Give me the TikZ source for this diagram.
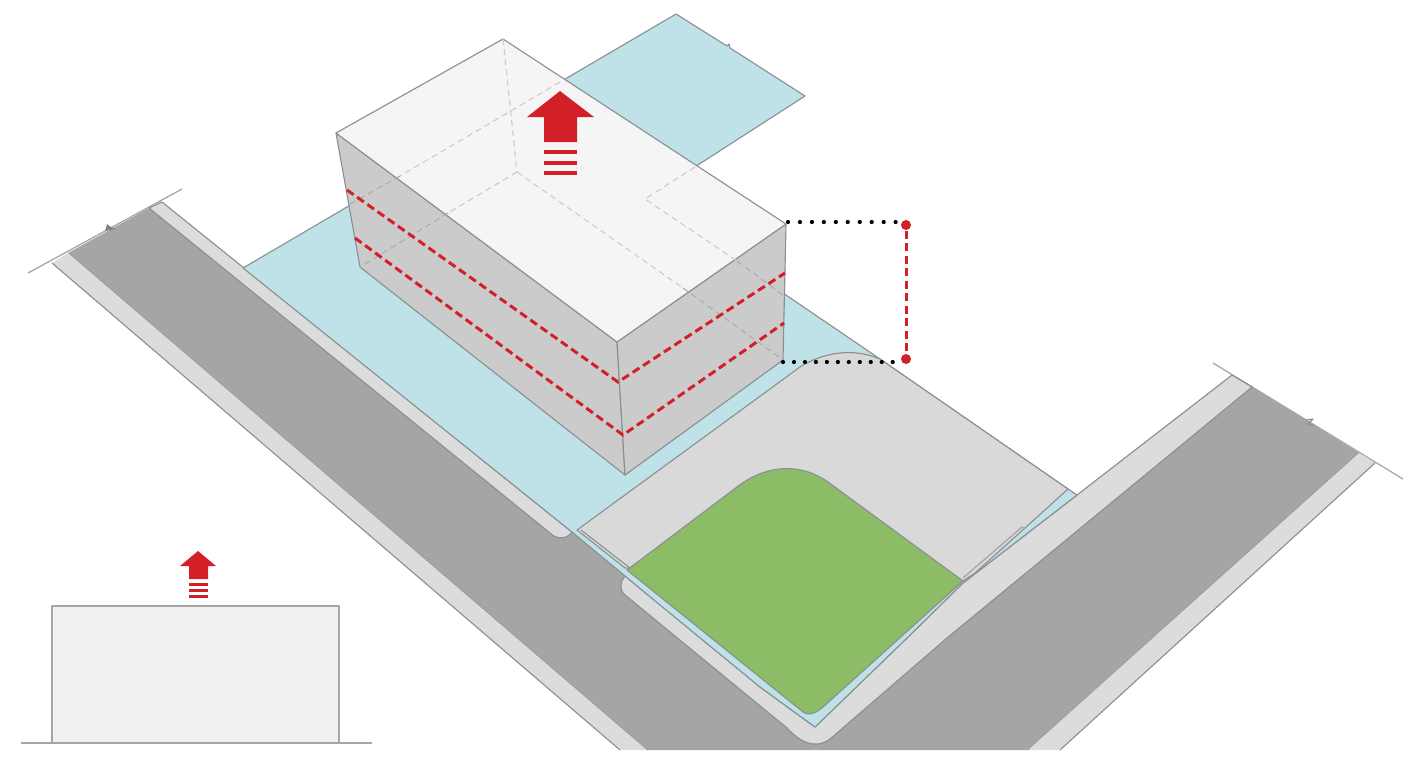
\documentclass[tikz,border=0pt]{standalone}
\definecolor{roadgray}{HTML}{A5A5A5}
\definecolor{walkgray}{HTML}{DCDCDC}
\definecolor{pavegray}{HTML}{D9D9D9}
\definecolor{lotblue}{HTML}{BFE2E9}
\definecolor{lawngreen}{HTML}{8DBC66}
\definecolor{edgegray}{HTML}{8A9092}
\definecolor{topwhite}{HTML}{F5F5F6}
\definecolor{sidegray}{HTML}{CBCBCB}
\definecolor{hintred}{HTML}{D31F27}
\begin{document}
\begin{tikzpicture}[
  x=0.01cm, y=-0.01cm,
  edge/.style={line width=0.32pt, draw=edgegray, line join=round},
  edgelight/.style={line width=0.36pt, draw=black!35, line join=round},
  hidden/.style={line width=0.32pt, draw=black!20, dash pattern=on 1.7pt off 1.2pt},
  hiddenside/.style={line width=0.32pt, draw=black!32, dash pattern=on 1.7pt off 1.2pt},
  reddash/.style={line width=0.85pt, draw=hintred, dash pattern=on 2.3pt off 1.25pt},
  dotline/.style={line width=1.2pt, draw=black, line cap=round},
  dimdot/.style={circle, fill=hintred, inner sep=0pt, minimum size=0.1cm},
  hintarrow/.style={fill=hintred, draw=none}
]
  \useasboundingbox (0,0) rectangle (1409,760);

  % Road
  \fill[roadgray] (68,253) -- (149,208) -- (550,533) -- (572,532) -- (815,727)
    -- (1252,387) -- (1359,453) -- (1028,750) -- (647,750) -- cycle;
  \draw[edge] (68,253) -- (647,750);
  \draw[edge] (1359,453) -- (1028,750);
  \draw[edgelight] (28,273) -- (182,189);
  \draw[edgelight] (1213,363) -- (1403,479);
  \fill[roadgray!80!black] (105,231) -- (107,224) -- (111,227) -- (116,229) -- cycle;
  \draw[edge] (1306,420) -- (1313,419) -- (1308,424) -- (1314,426);

  % Sidewalks
  \fill[walkgray] (52,263) -- (68,253) -- (647,750) -- (620,750) -- cycle;
  \draw[edge] (52,263) -- (620,750);
  \fill[walkgray] (1359,453) -- (1375,463) -- (1060,750) -- (1028,750) -- cycle;
  \draw[edge] (1375,463) -- (1060,750);
  \filldraw[edge, fill=walkgray] (149,208) -- (162,202) -- (572,532)
    .. controls (568,538) and (558,541) .. (550,533) -- cycle;
  \filldraw[edge, fill=walkgray] (625,576) .. controls (620,581) and (619,590) .. (625,595)
    -- (787,728) .. controls (800,742) and (815,750) .. (830,739)
    -- (947,638) -- (1252,387) -- (1232,375) -- (1077,495) -- (963,583) -- (907,638)
    -- (815,727) -- (760,687) -- cycle;

  % Lot
  \filldraw[edge, fill=lotblue] (243,268) -- (676,14) -- (727,46) -- (729,44) -- (730,48)
    -- (805,96) -- (645,199) -- (880,359) -- (1068,489) -- (1077,495) -- (963,583)
    -- (907,638) -- (815,727) -- (760,687) -- (660,605) -- (572,532) -- cycle;

  % Pavement and lawn
  \filldraw[edge, fill=pavegray] (577,530) -- (800,367)
    .. controls (822,353) and (852,347) .. (880,359)
    -- (1068,489) -- (1025,528) -- (975,573) -- (963,581) -- (625,568) -- cycle;
  \draw[edge] (581,530) -- (630,568);
  \draw[edgelight] (963,578) -- (1022,527) -- (1025,528);
  \filldraw[edge, fill=lawngreen] (627,570) -- (737,487)
    .. controls (765,465) and (800,462) .. (828,482)
    -- (963,581) -- (823,707)
    .. controls (815,714) and (808,716) .. (803,712) -- cycle;

  % Building
  \coordinate (topleft) at (336,133);
  \coordinate (topback) at (503,39);
  \coordinate (topright) at (786,224);
  \coordinate (topfront) at (617,342);
  \coordinate (baseleft) at (360,267);
  \coordinate (basefront) at (625,475);
  \coordinate (baseright) at (783,360);
  \coordinate (baseback) at (517,172);
  \filldraw[edge, fill=sidegray] (topleft) -- (topfront) -- (basefront) -- (baseleft) -- cycle;
  \filldraw[edge, fill=sidegray] (topfront) -- (topright) -- (baseright) -- (basefront) -- cycle;
  \filldraw[edge, fill=topwhite] (topleft) -- (topback) -- (topright) -- (topfront) -- cycle;

  % Hidden lines
  \draw[hidden] (topback) -- (baseback);
  \draw[hidden] (baseback) -- (448,213);
  \draw[hiddenside] (448,213) -- (baseleft);
  \draw[hidden] (baseback) -- (683,288);
  \draw[hiddenside] (683,288) -- (baseright);
  \draw[hidden] (560,82) -- (400,176);
  \draw[hiddenside] (400,176) -- (347,206);
  \draw[hidden] (695,167) -- (645,199) -- (737,261);
  \draw[hiddenside] (737,261) -- (783,295);

  % Floors
  \draw[reddash] (347,190) -- (618,382) -- (785,273);
  \draw[reddash] (355,238) -- (623,435) -- (784,323);

  % Height mark
  \coordinate (dottop) at (788,222);
  \coordinate (dotbase) at (783,362);
  \node[dimdot] (dimtop) at (906,225) {};
  \node[dimdot] (dimbase) at (906,359) {};
  \draw[dotline, dash pattern=on 0pt off 3.4pt] (dottop) -- (dottop -| dimtop);
  \draw[dotline, dash pattern=on 0pt off 3.12pt] (dotbase) -- (896,362);
  \draw[reddash] (dimtop) -- (dimbase);

  % Large arrow
  \fill[hintarrow] (560,91) -- (594,117) -- (577,117) -- (577,142) -- (544,142)
    -- (544,117) -- (527,117) -- cycle;
  \foreach \y in {150,161,171} {
    \fill[hintarrow] (544,\y) rectangle (577,\y+4);
  }

  % Elevation
  \filldraw[edgelight, fill=black!6] (52,743) rectangle (339,606);
  \draw[edgelight] (21,743) -- (372,743);
  \fill[hintarrow] (198,551) -- (216,566) -- (208,566) -- (208,579) -- (189,579)
    -- (189,566) -- (180,566) -- cycle;
  \foreach \y in {583,589,595} {
    \fill[hintarrow] (189,\y) rectangle (208,\y+3);
  }
\end{tikzpicture}
\end{document}
